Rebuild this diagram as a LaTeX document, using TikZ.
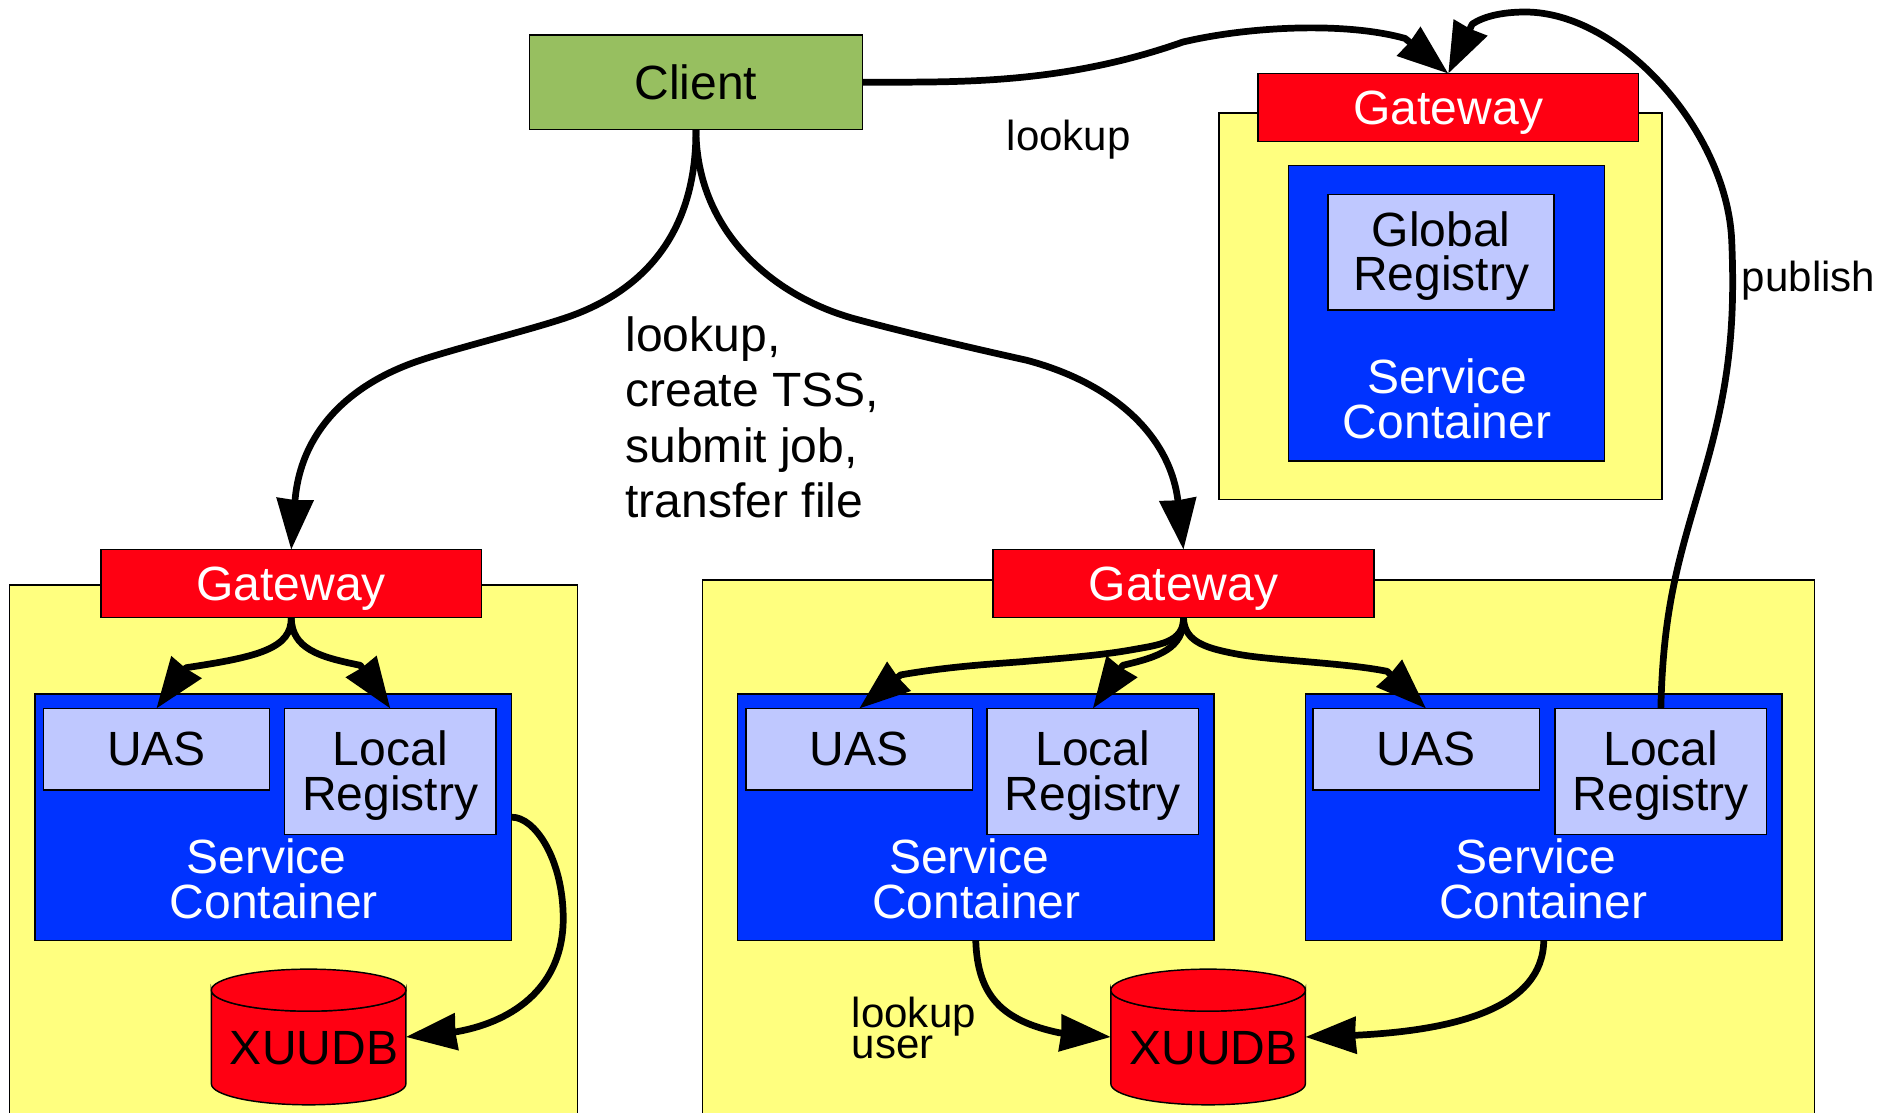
\documentclass[tikz,border=0pt]{standalone}
\usepackage{fontspec}
\setmainfont{Liberation Sans}
\usetikzlibrary{arrows.meta}
\definecolor{cyellow}{HTML}{FFFF7F}
\definecolor{cred}{HTML}{FF0012}
\definecolor{cblue}{HTML}{0033FF}
\definecolor{clight}{HTML}{BFC8FF}
\definecolor{cgreen}{HTML}{97BF60}
\newcommand{\dn}[2][1.6pt]{\raisebox{-#1}[\height][\depth]{#2}}
\newcommand{\tightlines}{\fontsize{17.5}{12.5}\selectfont\lineskiplimit=-50pt\relax}
\tikzset{
  x=0.5pt,y=-0.5pt,
  boxbase/.style={draw=black,line width=0.6pt,rectangle,inner sep=0pt,outer sep=0pt,align=center,font=\fontsize{20}{18.6}\selectfont},
  site/.style={boxbase,fill=cyellow},
  clientbox/.style={boxbase,fill=cgreen,minimum width=138.5pt,minimum height=39.5pt},
  gw/.style={boxbase,fill=cred,text=white,minimum width=158.5pt,minimum height=28.25pt},
  sc/.style={boxbase,fill=cblue,minimum width=198.5pt,minimum height=102.5pt},
  uasbox/.style={boxbase,fill=clight,minimum width=94.25pt,minimum height=34pt},
  lrbox/.style={boxbase,fill=clight,minimum width=88pt,minimum height=52.5pt},
  sctext/.style={inner sep=0pt,align=center,text=white,font=\fontsize{20}{18.6}\selectfont},
  db/.style={inner sep=0pt,outer sep=0pt,minimum width=81pt,minimum height=56.5pt,font=\fontsize{20}{20}\selectfont},
  cyl/.style={draw=black,line width=0.6pt,fill=cred},
  lbl/.style={inner sep=0pt,align=left,font=\fontsize{17.5}{17.5}\selectfont},
  lblbig/.style={inner sep=0pt,align=left,font=\fontsize{20}{23}\selectfont},
  lblsmall/.style={inner sep=0pt,align=left,font=\tightlines},
  conn/.style={draw=black,line width=2.8pt,line join=round,-{Stealth[length=21pt,width=15pt,inset=0.3pt]}},
}
\newcommand{\dbshape}[2]{% left x, top y
  \path[cyl] (#1,#2+17.5) -- (#1,#2+95.5) arc[start angle=180,end angle=360,x radius=40.5pt,y radius=8.75pt] -- (#1+162,#2+17.5) arc[start angle=0,end angle=-180,x radius=40.5pt,y radius=8.75pt] -- cycle;
  \path[cyl] (#1+81,#2+17.5) ellipse[x radius=40.5pt,y radius=8.75pt];
}
\begin{document}
\begin{tikzpicture}
\path[use as bounding box,clip] (0,0) rectangle (1568,926);

% sites
\node[site,minimum width=236.5pt,minimum height=240pt] (siteL) at (244.5,727) {};
\node[site,minimum width=463pt,minimum height=242pt] (siteM) at (1048,725) {};
\node[site,minimum width=184.5pt,minimum height=161pt] (siteT) at (1199.5,255) {};

% databases
\dbshape{176}{807}
\dbshape{925}{807}
\node[db] (xl) at (257,863.5) {\kern4.5pt\raisebox{-4.5pt}[\height][\depth]{XUUDB}};
\node[db] (xm) at (1006,863.5) {\kern4.5pt\raisebox{-4.5pt}[\height][\depth]{XUUDB}};

% client and gateways
\node[clientbox] (client) at (579.5,68.5) {Client};
\node[gw] (gwT) at (1206,89.5) {\dn[2pt]{Gateway}};
\node[gw] (gwL) at (242.5,486) {\dn[2pt]{Gateway}};
\node[gw] (gwM) at (985.5,486) {\dn[2pt]{Gateway}};

% global container
\node[boxbase,fill=cblue,minimum width=131.5pt,minimum height=123pt] (scT) at (1204.5,261) {};
\node[boxbase,fill=clight,minimum width=94pt,minimum height=48pt] (gr) at (1200,210) {\dn{Global}\\\dn{Registry}};
\node[sctext] (sctT) at (1205,332) {Service\\Container};

% left container
\node[sc] (scL) at (227.5,680.5) {};
\node[uasbox] (uasL) at (130.25,624) {UAS};
\node[lrbox] (lrL) at (325,642.5) {\dn{Local}\\\dn{Registry}};
\node[sctext] (sctL) at (228,732) {Service\kern6pt\\Container};

% middle containers
\node[sc] (scA) at (812.5,680.5) {};
\node[uasbox] (uasA) at (715.5,624) {UAS};
\node[lrbox] (lrA) at (910,642.5) {\dn{Local}\\\dn{Registry}};
\node[sctext] (sctA) at (813,732) {Service\kern6pt\\Container};

\node[sc] (scB) at (1285.5,680.5) {};
\node[uasbox] (uasB) at (1187.5,624) {UAS};
\node[lrbox] (lrB) at (1383,642.5) {\dn{Local}\\\dn{Registry}};
\node[sctext] (sctB) at (1285,732) {Service\kern6pt\\Container};

% labels
\node[lbl] (lkT) at (890,116) {lookup};
\node[lbl] (pub) at (1506,234) {publish};
\node[lblbig,anchor=west] (ops) at (520.5,347.5) {lookup,\\create TSS,\\submit job,\\transfer file};
\node[lblsmall,anchor=west] (lku) at (709,856) {lookup\\user};

% connectors
\draw[conn] (client.east) .. controls (790,68) and (880,72) .. (985,35) .. controls (1040,22) and (1120,18) .. (1170,32) -- (gwT.north);
\draw[conn] (lrB.north) .. controls (1385,500) and (1400,460) .. (1420,390) .. controls (1440,320) and (1445,270) .. (1442,200) .. controls (1438,110) and (1350,10) .. (1270,10) .. controls (1250,10) and (1235,14) .. (1226,20) -- (gwT.north);
\draw[conn] (client.south) .. controls (580,200) and (530,245) .. (470,265) .. controls (440,275) and (380,290) .. (350,300) .. controls (290,320) and (250,360) .. (gwL.north);
\draw[conn] (client.south) .. controls (580,190) and (640,245) .. (710,265) .. controls (750,276) and (810,290) .. (855,300) .. controls (930,320) and (975,365) .. (gwM.north);
\draw[conn] (gwL.south) .. controls (243,540) and (215,547) .. (155,556) -- (uasL.north);
\draw[conn] (gwL.south) .. controls (243,540) and (265,547) .. (300,554) -- (lrL.north);
\draw[conn] (gwM.south) .. controls (986,535) and (965,537) .. (943,541) .. controls (915,546) and (885,548) .. (851,551) .. controls (825,553) and (790,555) .. (750,562) -- (uasA.north);
\draw[conn] (gwM.south) .. controls (986,540) and (965,547) .. (935,554) -- (lrA.north);
\draw[conn] (gwM.south) .. controls (986,535) and (1005,540) .. (1032,545) .. controls (1060,550) and (1120,552) .. (1155,559) -- (uasB.north);
\draw[conn] (scL.east) .. controls (445,680) and (469,715) .. (469,765) .. controls (469,820) and (430,850) .. (381,859) -- (xl.east);
\draw[conn] (scA.south) .. controls (814,830) and (835,850) .. (882,860) -- (xm.west);
\draw[conn] (scB.south) .. controls (1285,840) and (1210,858) .. (1130,862) -- (xm.east);
\end{tikzpicture}
\end{document}
